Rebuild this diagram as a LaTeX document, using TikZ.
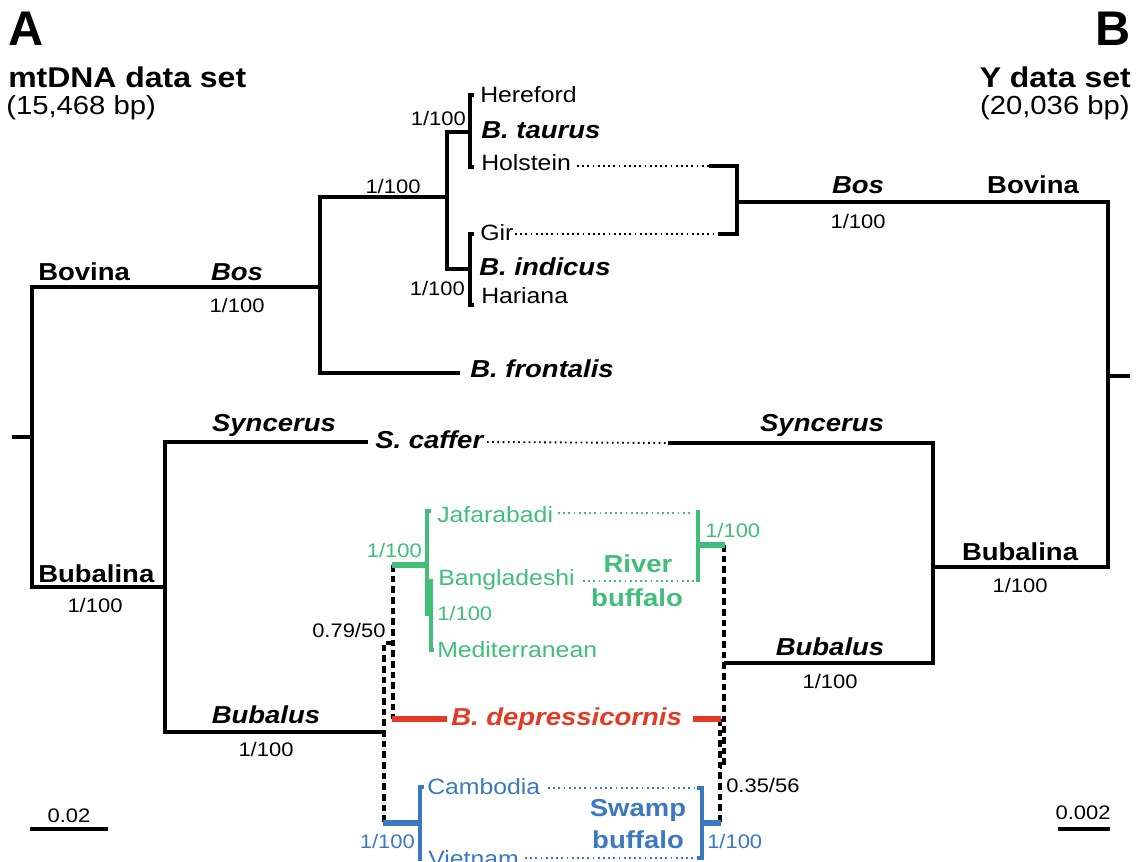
\documentclass[tikz,border=0pt]{standalone}
\usepackage{fontspec}
\setmainfont{Liberation Sans}[FakeStretch=1.12]
\newfontfamily\plainsans{Liberation Sans}
\definecolor{rivg}{RGB}{64,190,122}
\definecolor{swpb}{RGB}{58,120,192}
\definecolor{depr}{RGB}{226,58,36}
\begin{document}
\begin{tikzpicture}[x=0.75pt,y=-0.75pt,
  tree/.style={line width=2.6pt,line join=miter},
  dsh/.style={line width=2.6pt,dash pattern=on 5pt off 3pt},
  dotl/.style={line width=1.4pt,dash pattern=on 1.3pt off 2.6pt},
  gthin/.style={rivg,line width=2.6pt},
  gthick/.style={rivg,line width=4.2pt},
  bthin/.style={swpb,line width=2.8pt},
  bthick/.style={swpb,line width=4.2pt},
  rthick/.style={depr,line width=4.6pt},
  lab/.style={inner sep=0pt},
  sm/.style={lab,font=\fontsize{14.7}{16}\selectfont},
  nm/.style={lab,font=\fontsize{16.6}{18}\selectfont},
  bl/.style={lab,font=\fontsize{18.4}{20}\selectfont\bfseries},
  bi/.style={lab,font=\fontsize{18.4}{20}\selectfont\bfseries\itshape},
  ttl/.style={lab,font=\fontsize{21.4}{23}\selectfont\bfseries},
  sub/.style={lab,font=\fontsize{19.6}{21}\selectfont},
  big/.style={lab,font=\plainsans\fontsize{36.5}{38}\selectfont\bfseries}]
\useasboundingbox (0,0) rectangle (1138,861);

% ---------- titles ----------
\node[big,anchor=base west] (tA) at (8,45) {A};
\node[ttl,anchor=base west] (tA1) at (8,87) {mtDNA data set};
\node[sub,anchor=base west] (tA2) at (6,114) {(15,468 bp)};
\node[big,anchor=base east] (tB) at (1131,45) {B};
\node[ttl,anchor=base east] (tB1) at (1131,87) {Y data set};
\node[sub,anchor=base east] (tB2) at (1130,114) {(20,036 bp)};

% ---------- left tree coordinates ----------
\coordinate (Lr0) at (12,437);
\coordinate (Lr) at (32,437);
\coordinate (Lbov) at (32,287);
\coordinate (Lbub) at (32,587);
\coordinate (LBos) at (320,287);
\coordinate (LBosT) at (320,197);
\coordinate (LBosB) at (320,373);
\coordinate (Lcat) at (447,197);
\coordinate (LcatT) at (447,132);
\coordinate (LcatB) at (447,269);
\coordinate (Ltau) at (470,132);
\coordinate (Lind) at (470,269);
\coordinate (Lfro) at (460,373);
\coordinate (LBn) at (165,587);
\coordinate (LSy) at (165,442);
\coordinate (LSyE) at (368,442);
\coordinate (LBu) at (165,732);
\coordinate (LBuE) at (384,732);

\draw[tree] (Lr0) -- (Lr);
\draw[tree] (LBos) -- (Lbov) -- (Lbub) -- (LBn);
\draw[tree] (Lcat) -- (LBosT) -- (LBosB) -- (Lfro);
\draw[tree] (Ltau) -- (LcatT) -- (LcatB) -- (Lind);
\draw[tree] (474,95) -- (470,95) -- (470,167) -- (474,167);
\draw[tree] (474,234) -- (470,234) -- (470,305) -- (474,305);
\draw[tree] (LSyE) -- (LSy) -- (LBu) -- (LBuE);

% ---------- right tree coordinates ----------
\coordinate (Rh) at (709,166);
\coordinate (RhC) at (737,166);
\coordinate (RgC) at (737,234);
\coordinate (Rg) at (718,234);
\coordinate (RBos) at (737,202);
\coordinate (RBosE) at (1108,202);
\coordinate (RBub) at (1108,567);
\coordinate (RBubE) at (933,567);
\coordinate (Rroot) at (1108,376);
\coordinate (Rroot0) at (1130,376);
\coordinate (RSy) at (933,443);
\coordinate (RSyE) at (668,443);
\coordinate (RBu) at (933,663);
\coordinate (RBuE) at (724,663);

\draw[tree] (Rh) -- (RhC) -- (RgC) -- (Rg);
\draw[tree] (RBos) -- (RBosE) -- (RBub) -- (RBubE);
\draw[tree] (Rroot) -- (Rroot0);
\draw[tree] (RSyE) -- (RSy) -- (RBu) -- (RBuE);

% ---------- dotted links ----------
\draw[dotl] (577,166) -- (Rh);
\draw[dotl] (515,234) -- (Rg);
\draw[dotl] (487,442) -- (RSyE);
\draw[rivg,dotl] (558,513) -- (692,513);
\draw[rivg,dotl] (583,581) -- (694,581);
\draw[swpb,dotl] (548,788) -- (694,788);
\draw[swpb,dotl] (525,858) -- (695,858);

% ---------- dashed uncertain parts ----------
\draw[dsh] (393,643) -- (384,643) -- (384,823);
\draw[dsh] (393,565) -- (393,719);
\draw[dsh] (724,545) -- (724,767) -- (720,767);
\draw[dsh] (720,719) -- (720,823);

% ---------- coloured clades ----------
\draw[gthick] (392,565) -- (427,565);
\draw[gthin] (431,511) -- (427,511) -- (427,614) -- (431,614);
\draw[gthin] (431,579) -- (431,650) -- (434,650);
\draw[gthin] (698,510) -- (698,582);
\draw[gthick] (698,545) -- (725,545);

\draw[rthick] (392,719) -- (447,719);
\draw[rthick] (693,719) -- (721,719);

\draw[bthick] (383,823) -- (420,823);
\draw[bthin] (424,787) -- (420,787) -- (420,861);
\draw[bthin] (697,788) -- (702,788) -- (702,858) -- (697,858);
\draw[bthick] (702,823) -- (721,823);

% ---------- scale bars ----------
\draw[line width=2.8pt] (30,829) -- (108,829);
\draw[line width=2.8pt] (1058,829) -- (1110,829);
\node[sm,anchor=base] (s1) at (69,822) {0.02};
\node[sm,anchor=base] (s2) at (1083,819) {0.002};

% ---------- left labels ----------
\node[bl,anchor=base west] (lBov) at (38,280) {Bovina};
\node[bi,anchor=base] (lBos) at (237,280) {Bos};
\node[sm,anchor=base] (lBos1) at (237,312) {1/100};
\node[sm,anchor=base] (lcat1) at (393,193) {1/100};
\node[sm,anchor=base east] (ltau1) at (466,125) {1/100};
\node[sm,anchor=base east] (lind1) at (465,295) {1/100};
\node[nm,anchor=base west] (lHer) at (480,102) {Hereford};
\node[bi,anchor=base west] (lTau) at (481,138) {B. taurus};
\node[nm,anchor=base west] (lHol) at (481,170) {Holstein};
\node[nm,anchor=base west] (lGir) at (480,240) {Gir};
\node[bi,anchor=base west] (lInd) at (479,275) {B. indicus};
\node[nm,anchor=base west] (lHar) at (481,303) {Hariana};
\node[bi,anchor=base west] (lFro) at (470,377) {B. frontalis};
\node[bi,anchor=base] (lSyn) at (274,431) {Syncerus};
\node[bi,anchor=base west] (lCaf) at (375,448) {S. caffer};
\node[bl,anchor=base west] (lBub) at (38,582) {Bubalina};
\node[sm,anchor=base] (lBub1) at (95,612) {1/100};
\node[sm,anchor=base west] (l079) at (312,637) {0.79/50};
\node[bi,anchor=base] (lBus) at (266,723) {Bubalus};
\node[sm,anchor=base] (lBus1) at (266,756) {1/100};

% ---------- right labels ----------
\node[bi,anchor=base] (rBos) at (858,193) {Bos};
\node[sm,anchor=base] (rBos1) at (858,228) {1/100};
\node[bl,anchor=base] (rBov) at (1033,193) {Bovina};
\node[bi,anchor=base] (rSyn) at (822,431) {Syncerus};
\node[bl,anchor=base] (rBub) at (1020,560) {Bubalina};
\node[sm,anchor=base] (rBub1) at (1020,592) {1/100};
\node[bi,anchor=base] (rBus) at (830,655) {Bubalus};
\node[sm,anchor=base] (rBus1) at (830,688) {1/100};
\node[sm,anchor=base west] (r035) at (726,792) {0.35/56};

% ---------- river buffalo ----------
\node[sm,rivg,anchor=base east] (gL1) at (422,557) {1/100};
\node[sm,rivg,anchor=base west] (gR1) at (705,537) {1/100};
\node[sm,rivg,anchor=base west] (gI1) at (437,620) {1/100};
\node[nm,rivg,anchor=base west] (gJaf) at (437,522) {Jafarabadi};
\node[nm,rivg,anchor=base west] (gBan) at (438,585) {Bangladeshi};
\node[nm,rivg,anchor=base west] (gMed) at (437,657) {Mediterranean};
\node[bl,rivg,anchor=base] (gRiv) at (638,572) {River};
\node[bl,rivg,anchor=base] (gBuf) at (637,606) {buffalo};

% ---------- B. depressicornis ----------
\node[bi,depr,anchor=base west] (rDep) at (451,725) {B. depressicornis};

% ---------- swamp buffalo ----------
\node[nm,swpb,anchor=base west] (bCam) at (427,794) {Cambodia};
\node[nm,swpb,anchor=base west] (bVie) at (428,866) {Vietnam};
\node[bl,swpb,anchor=base] (bSwa) at (638,816) {Swamp};
\node[bl,swpb,anchor=base] (bBuf) at (638,848) {buffalo};
\node[sm,swpb,anchor=base east] (bL1) at (415,848) {1/100};
\node[sm,swpb,anchor=base west] (bR1) at (707,848) {1/100};
\end{tikzpicture}
\end{document}
